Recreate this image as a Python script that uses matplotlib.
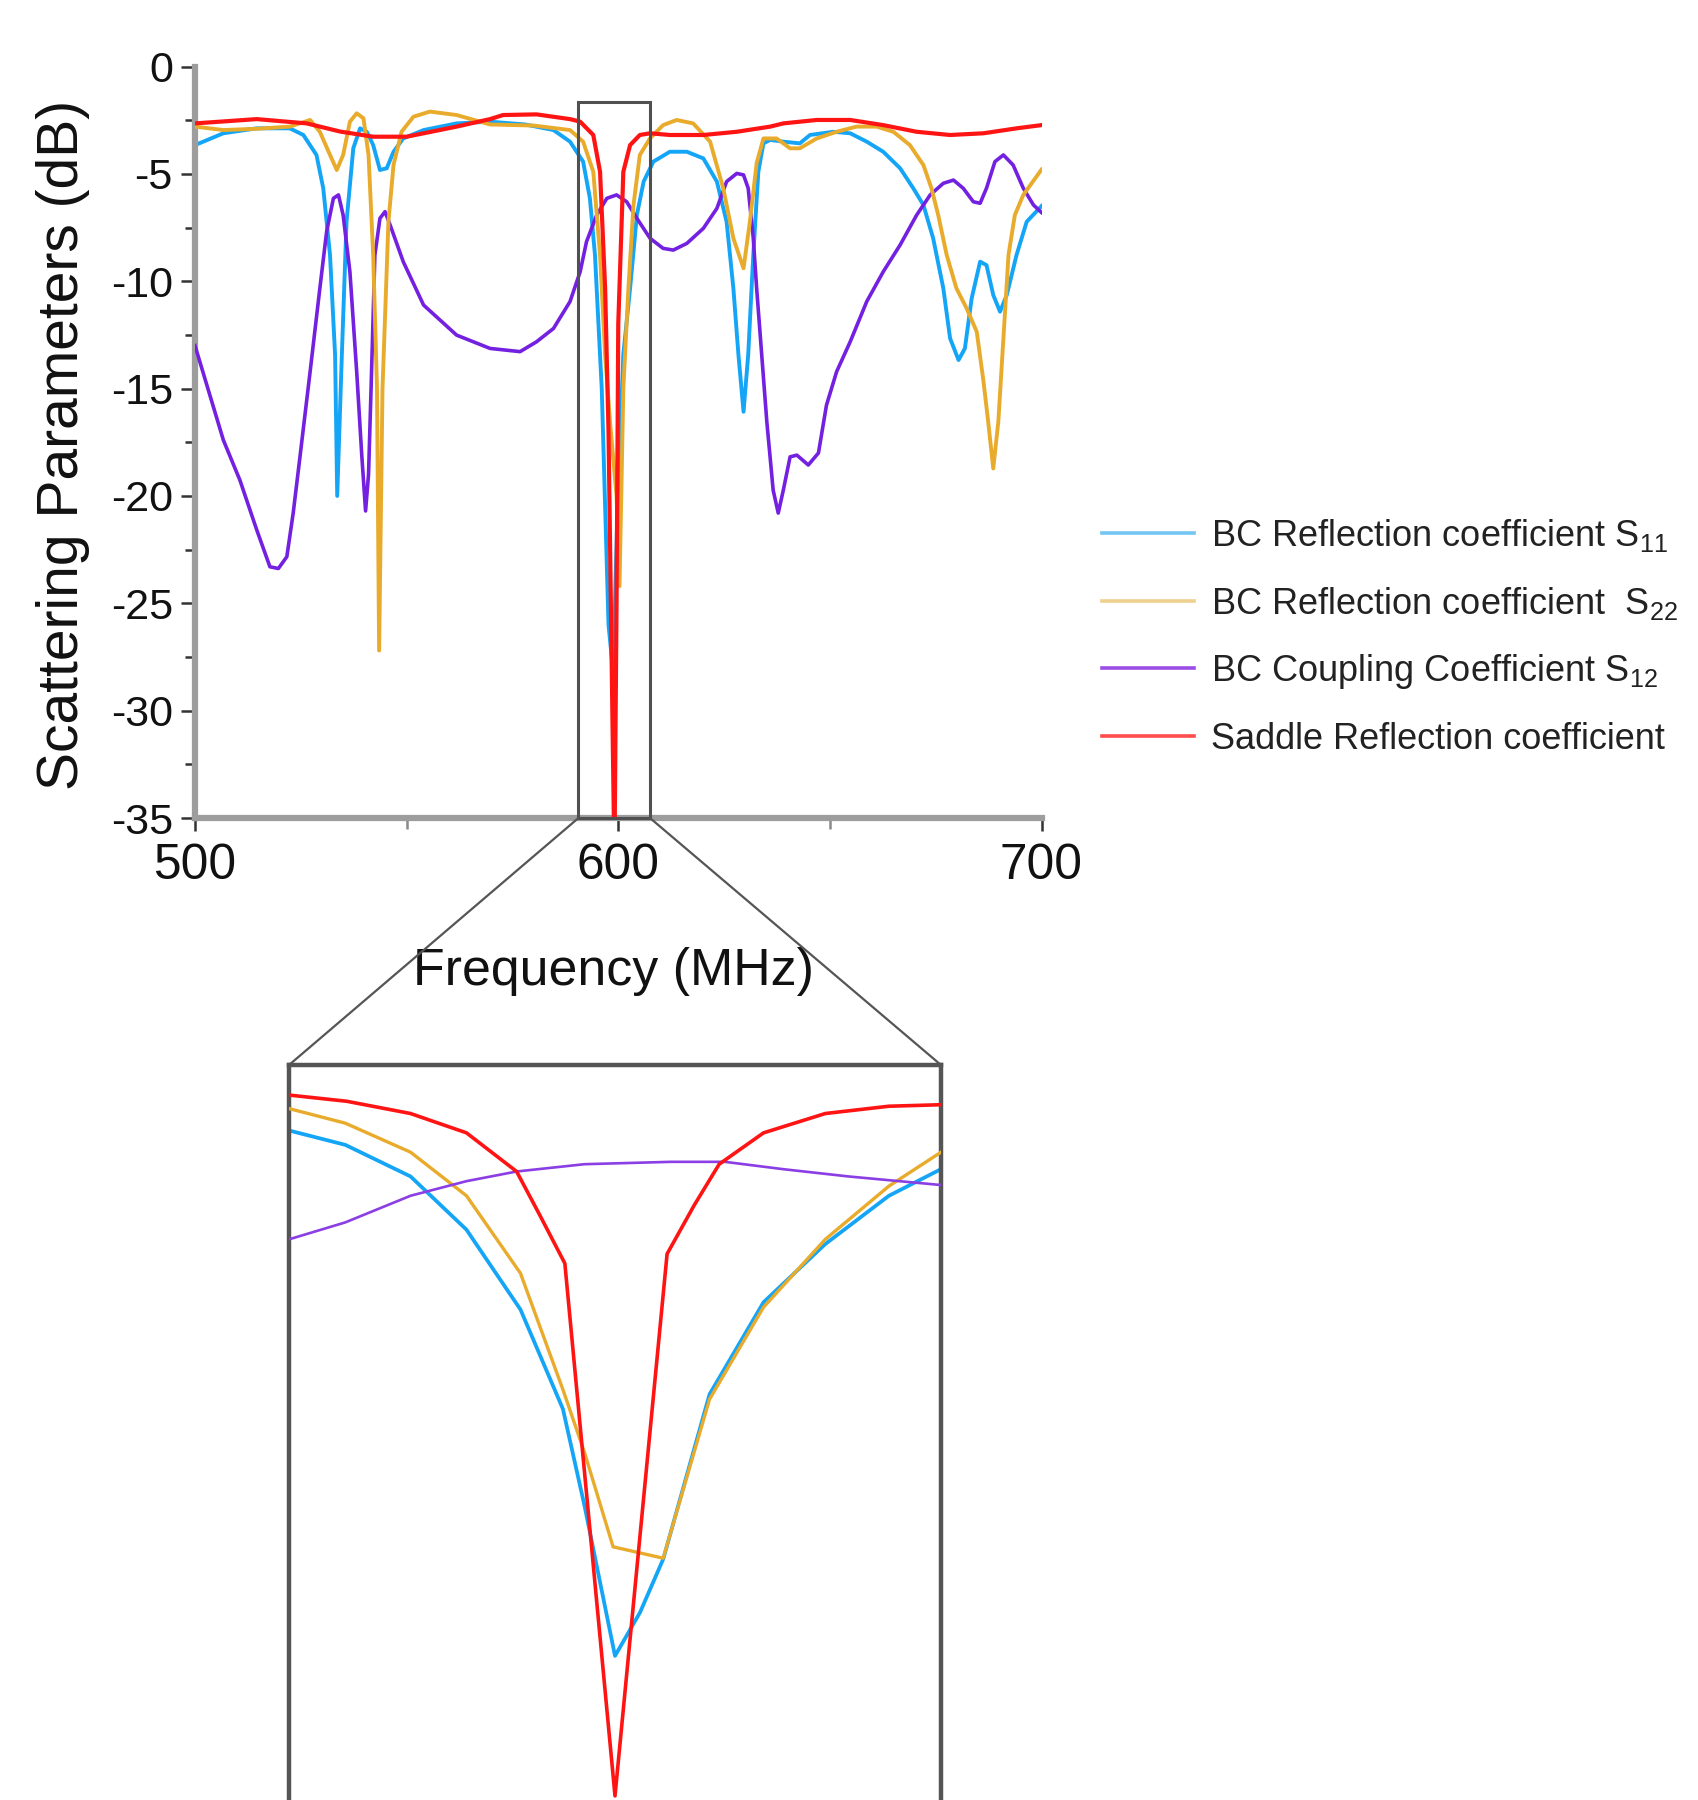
import matplotlib
matplotlib.use("Agg")
import matplotlib.pyplot as plt
from matplotlib import font_manager
from matplotlib.font_manager import FontProperties
from matplotlib.patches import Rectangle, ConnectionPatch
from matplotlib.lines import Line2D

# ---------------- data ----------------
s11_freq = [500, 506.7, 514.6, 522.4, 525.6, 528.7, 530.3, 531.9, 533.1, 533.6, 534.7, 535.8,
            537.4, 539.0, 540.6, 542.1, 543.7, 545.3, 546.9, 549.2, 554.0, 561.8, 569.7, 578.0,
            584.7, 588.6, 591.7, 593.3, 594.5, 595.3, 596.1, 597.7, 598.8, 599.9, 601.2, 602.8,
            604.4, 606.0, 608.3, 612.2, 616.2, 620.1, 623.3, 625.6, 627.2, 628.4, 629.6, 630.7,
            631.9, 633.1, 634.3, 635.9, 639.0, 642.9, 645.3, 650.8, 654.8, 658.7, 662.6, 666.6,
            669.7, 672.1, 674.4, 676.8, 678.4, 680.4, 681.9, 683.5, 685.5, 687.0, 688.6, 690.2,
            691.8, 694.1, 696.5, 700]
s11_db = [-3.66, -3.11, -2.88, -2.88, -3.19, -4.12, -5.67, -8.78, -13.44, -20.0, -13.4, -7.23,
          -3.81, -2.88, -3.04, -3.66, -4.82, -4.74, -3.97, -3.35, -2.96, -2.65, -2.57, -2.7,
          -2.96, -3.5, -4.43, -6.14, -8.78, -11.9, -15.0, -26.0, -28.2, -20.0, -13.4, -10.33,
          -6.92, -5.36, -4.43, -3.97, -3.97, -4.28, -5.36, -7.23, -10.33, -13.44, -16.08, -13.44,
          -8.78, -4.9, -3.58, -3.42, -3.5, -3.58, -3.19, -3.04, -3.11, -3.5, -3.97, -4.74,
          -5.67, -6.45, -8.0, -10.33, -12.66, -13.67, -13.13, -10.8, -9.09, -9.25, -10.64, -11.42,
          -10.64, -8.78, -7.23, -6.5]

s22_freq = [500, 506.7, 514.6, 522.4, 527.2, 529.5, 531.9, 533.5, 535.0, 536.6, 538.2, 539.8,
            541.0, 542.1, 543.0, 543.5, 544.3, 545.7, 546.9, 548.8, 551.6, 555.5, 561.8, 569.7,
            580.0, 588.6, 591.7, 594.1, 595.7, 596.9, 598.05, 599.6, 600.3, 601.2, 602.4, 603.6,
            605.1, 607.5, 610.6, 613.8, 617.7, 621.7, 624.8, 627.2, 629.6, 631.1, 632.7, 634.3,
            637.4, 640.6, 642.9, 646.9, 651.6, 656.3, 661.0, 665.0, 668.9, 672.1, 674.0, 675.6,
            677.6, 679.9, 682.3, 684.7, 686.3, 687.4, 688.6, 689.8, 691.0, 692.2, 693.7, 695.7,
            700]
s22_db = [-2.8, -2.96, -2.9, -2.8, -2.49, -3.04, -4.12, -4.82, -4.12, -2.57, -2.18, -2.41,
          -4.12, -8.78, -15.0, -27.2, -15.0, -7.23, -4.59, -3.04, -2.34, -2.1, -2.26, -2.7,
          -2.75, -2.96, -3.5, -4.9, -8.78, -13.44, -16.54, -20.0, -24.2, -15.0, -10.33, -6.45,
          -4.12, -3.35, -2.73, -2.49, -2.65, -3.5, -5.67, -8.0, -9.4, -7.23, -4.5, -3.35,
          -3.35, -3.81, -3.81, -3.35, -3.04, -2.8, -2.8, -3.04, -3.66, -4.59, -5.67, -6.92,
          -8.78, -10.33, -11.26, -12.35, -14.68, -16.54, -18.72, -16.54, -12.66, -8.78, -6.92, -5.98,
          -4.8]

s12_freq = [500, 506.7, 510.6, 514.6, 517.7, 519.7, 521.7, 523.2, 524.8, 527.2, 529.5, 531.1,
            532.7, 533.9, 535.0, 536.6, 538.2, 539.4, 540.3, 541.0, 541.6, 542.5, 543.7, 544.9,
            546.1, 549.2, 554.0, 561.8, 569.7, 576.8, 580.7, 584.7, 588.6, 591.0, 592.5, 594.9,
            597.3, 599.6, 602.0, 604.4, 607.5, 610.6, 613.0, 616.2, 620.1, 623.3, 625.6, 628.0,
            629.6, 630.7, 631.9, 632.7, 633.9, 635.1, 636.6, 637.8, 639.0, 640.6, 642.2, 644.9,
            647.3, 649.2, 651.6, 654.8, 658.7, 662.6, 666.6, 670.5, 673.7, 676.8, 679.2, 681.5,
            683.9, 685.5, 687.0, 689.0, 691.0, 693.3, 695.7, 698.1, 700]
s12_db = [-13.0, -17.4, -19.26, -21.59, -23.3, -23.38, -22.83, -20.8, -18.18, -14.21, -10.33, -7.69,
          -6.14, -5.98, -6.92, -9.56, -14.21, -18.1, -20.7, -19.0, -15.0, -8.78, -7.07, -6.76,
          -7.38, -9.09, -11.11, -12.51, -13.13, -13.28, -12.82, -12.2, -10.95, -9.56, -8.16, -6.92,
          -6.14, -5.98, -6.3, -7.07, -8.0, -8.47, -8.55, -8.24, -7.54, -6.61, -5.36, -4.98,
          -5.05, -5.67, -8.0, -10.33, -13.44, -16.54, -19.73, -20.8, -19.73, -18.18, -18.1, -18.56,
          -18.0, -15.77, -14.21, -12.82, -10.95, -9.56, -8.31, -6.92, -5.98, -5.44, -5.29, -5.67,
          -6.3, -6.37, -5.67, -4.43, -4.12, -4.59, -5.67, -6.45, -6.8]

saddle_freq = [500, 514.6, 526.4, 534.3, 542.1, 550.0, 561.8, 569.7, 572.8, 580.7, 588.6, 591.0,
               594.1, 595.7, 596.9, 597.7, 598.6, 599.1, 599.6, 600.0, 601.2, 602.8, 605.1, 607.5,
               612.2, 620.1, 628.0, 635.9, 639.0, 646.9, 654.8, 662.6, 670.5, 678.4, 686.3, 694.1,
               700]
saddle_db = [-2.65, -2.45, -2.65, -3.03, -3.27, -3.27, -2.8, -2.45, -2.26, -2.23, -2.45, -2.57,
             -3.19, -4.9, -10.33, -17.0, -30.0, -37.0, -25.0, -12.0, -4.9, -3.66, -3.19, -3.11,
             -3.19, -3.19, -3.04, -2.8, -2.65, -2.49, -2.49, -2.73, -3.04, -3.19, -3.11, -2.88,
             -2.73]

# zoomed detail (inset)
zoom_s11_freq = [590.6, 592.06, 593.75, 595.2, 596.6, 597.7, 598.26, 599.05, 599.7, 600.3, 601.5,
                 602.9, 604.5, 606.15, 607.5]
zoom_s11_db = [-4.71, -5.38, -6.85, -9.33, -13.05, -17.68, -22.19, -29.18, -27.15, -24.67, -17.0,
               -12.71, -10.0, -7.75, -6.51]
zoom_s22_freq = [590.6, 592.06, 593.75, 595.2, 596.6, 597.7, 598.26, 599.0, 600.3, 601.5, 602.9,
                 604.5, 606.15, 607.5]
zoom_s22_db = [-3.69, -4.37, -5.72, -7.75, -11.36, -16.78, -19.71, -24.1, -24.63, -17.23, -12.94,
               -9.78, -7.30, -5.72]
zoom_s12_freq = [590.6, 592.06, 593.75, 595.2, 596.5, 598.26, 600.5, 601.9, 603.4, 605.1, 607.5]
zoom_s12_db = [-9.78, -8.99, -7.75, -7.07, -6.62, -6.28, -6.17, -6.17, -6.51, -6.85, -7.25]
zoom_saddle_freq = [590.6, 592.1, 593.75, 595.2, 596.5, 597.1, 597.75, 599.05, 600.4, 601.1, 601.75,
                    602.9, 604.5, 606.15, 607.5]
zoom_saddle_db = [-3.06, -3.35, -3.92, -4.82, -6.62, -8.65, -10.9, -35.7, -10.46, -8.2, -6.28,
                  -4.82, -3.92, -3.58, -3.51]

labels = ["BC Reflection coefficient S$_{\\mathregular{11}}$",
          "BC Reflection coefficient  S$_{\\mathregular{22}}$",
          "BC Coupling Coefficient S$_{\\mathregular{12}}$",
          "Saddle Reflection coefficient"]
y_ticks = [0, -5, -10, -15, -20, -25, -30, -35]
x_ticks = [500, 600, 700]
zoom_range = (590.6, 607.5)

# ---------------- style ----------------
C_BLUE, C_ORANGE, C_PURPLE, C_RED = "#14a5f7", "#e8ab2c", "#7420e0", "#ff1414"
L_BLUE, L_ORANGE, L_PURPLE, L_RED = "#74c6f2", "#efd08e", "#9a4ee6", "#ff4c4c"

names = {f.name for f in font_manager.fontManager.ttflist}
REG = "Liberation Sans" if "Liberation Sans" in names else "DejaVu Sans"
if "Liberation Sans Narrow" in names:
    NAR, nscale = "Liberation Sans Narrow", 1.0
else:
    NAR, nscale = REG, 0.85
plt.rcParams["axes.unicode_minus"] = False
plt.rcParams["font.family"] = [REG, "DejaVu Sans"]

W, H = 1698, 1800
fig = plt.figure(figsize=(W / 100, H / 100), dpi=100)

# main axes
ax_l, ax_r, ax_t, ax_b = 195, 1041.5, 66.5, 818
ax = fig.add_axes([ax_l / W, 1 - ax_b / H, (ax_r - ax_l) / W, (ax_b - ax_t) / H])
ax.plot(s11_freq, s11_db, color=C_BLUE, lw=2.8, zorder=2)
ax.plot(s12_freq, s12_db, color=C_PURPLE, lw=2.6, zorder=3)
ax.plot(s22_freq, s22_db, color=C_ORANGE, lw=2.8, zorder=4)
ax.plot(saddle_freq, saddle_db, color=C_RED, lw=3.0, zorder=5)
ax.set_xlim(500, 700)
ax.set_ylim(-35, 0)
for s in ("top", "right"):
    ax.spines[s].set_visible(False)
for s in ("left", "bottom"):
    ax.spines[s].set_color("#9d9d9d")
    ax.spines[s].set_linewidth(4.5)
ax.set_yticks(y_ticks)
ax.set_yticklabels([str(v) for v in y_ticks])
ax.set_yticks([v - 2.5 for v in y_ticks[:-1]], minor=True)
ax.set_xticks(x_ticks)
ax.set_xticklabels([str(v) for v in x_ticks])
ax.set_xticks([550, 650], minor=True)
ax.tick_params(axis="y", which="major", length=10, width=1.8, color="#333333", pad=6,
               labelsize=31, labelcolor="#111111")
ax.tick_params(axis="y", which="minor", length=7, width=1.8, color="#333333")
ax.tick_params(axis="x", which="major", length=9, width=1.8, color="#333333", pad=9,
               labelsize=42 * nscale, labelcolor="#111111")
ax.tick_params(axis="x", which="minor", length=8, width=1.8, color="#8a8a8a")
for lab in ax.get_xticklabels():
    lab.set_family(NAR)
for lab in ax.get_yticklabels():
    lab.set_family(REG)

ax.text(-0.156, 0.496, "Scattering Parameters (dB)", rotation=90, ha="center", va="center",
        transform=ax.transAxes, family=REG, fontsize=41, color="#111111")
ax.text(0.494, -0.2036, "Frequency (MHz)", ha="center", va="center", transform=ax.transAxes,
        family=NAR, fontsize=44 * nscale, color="#111111")

# zoom box on main axes
box_top = -1.64
ax.add_patch(Rectangle((zoom_range[0], -35), zoom_range[1] - zoom_range[0], box_top + 35,
                       fill=False, ec="#505050", lw=2.2, zorder=8, clip_on=False))

# inset
in_l, in_r, in_t = 289, 941, 1065
px_per_db = (ax_b - ax_t) / 35.0
in_h = 749
axin = fig.add_axes([in_l / W, 1 - (in_t + in_h) / H, (in_r - in_l) / W, in_h / H])
axin.plot(zoom_s11_freq, zoom_s11_db, color=C_BLUE, lw=2.7, zorder=2)
axin.plot(zoom_s22_freq, zoom_s22_db, color=C_ORANGE, lw=2.4, zorder=3)
axin.plot(zoom_s12_freq, zoom_s12_db, color="#8a3ee4", lw=1.9, zorder=4)
axin.plot(zoom_saddle_freq, zoom_saddle_db, color=C_RED, lw=2.6, zorder=5)
axin.set_xlim(*zoom_range)
axin.set_ylim(-1.66 - in_h / px_per_db, -1.66)
axin.set_xticks([])
axin.set_yticks([])
axin.spines["bottom"].set_visible(False)
for s in ("left", "top", "right"):
    axin.spines[s].set_color("#555555")
    axin.spines[s].set_linewidth(3.2)

for xa, xb in ((zoom_range[0], 0), (zoom_range[1], 1)):
    cp = ConnectionPatch(xyA=(xa, -35), coordsA=ax.transData, xyB=(xb, 1),
                         coordsB=axin.transAxes, color="#555555", lw=1.6)
    fig.add_artist(cp)

# legend
handles = [Line2D([], [], color=c, lw=2.6) for c in (L_BLUE, L_ORANGE, L_PURPLE, L_RED)]
fig.legend(handles, labels, loc="upper left", bbox_to_anchor=(1102 / W, 1 - 517 / H),
           frameon=False, borderpad=0, borderaxespad=0, handlelength=2.55, handletextpad=0.47,
           labelspacing=0.845, prop=FontProperties(family=NAR, size=26),
           labelcolor="#222222")

fig.savefig("out.png", dpi=100)
